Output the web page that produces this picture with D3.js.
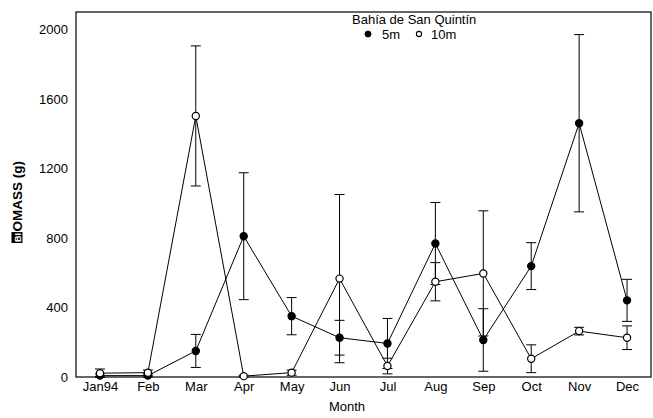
<!DOCTYPE html>
<html>
<head>
<meta charset="utf-8">
<script src="https://cdn.jsdelivr.net/npm/d3@7"></script>
<style>
  body { margin: 0; background: #fff; }
  svg { display: block; font-family: "Liberation Sans", Arial, sans-serif; }
</style>
</head>
<body>
<svg id="chart" width="653" height="418"></svg>
<script>
// Monthly biomass at two depths, Bahía de San Quintín (mean ± error)
const months = ["Jan94", "Feb", "Mar", "Apr", "May", "Jun", "Jul", "Aug", "Sep", "Oct", "Nov", "Dec"];
const depth5m = [8, 8, 150, 810, 350, 226, 193, 768, 213, 638, 1460, 441];
const depth5mErr = [10, 10, 95, 365, 107, 100, 144, 236, 180, 135, 510, 121];
const depth10m = [22, 25, 1502, 5, 25, 566, 63, 548, 596, 105, 264, 226];
const depth10mErr = [24, 15, 403, 5, 15, 484, 45, 110, 360, 80, 22, 68];
const yTicks = [0, 400, 800, 1200, 1600, 2000];

const svg = d3.select("#chart");
const W = 653, H = 418;
const margin = { top: 12, right: 2, bottom: 41, left: 76 };
const plotW = W - margin.left - margin.right;
const plotH = H - margin.top - margin.bottom;

const x = d3.scalePoint().domain(months).range([0, plotW]).padding(0.5);
const y = d3.scaleLinear().domain([0, 2100]).range([plotH, 0]);

const g = svg.append("g").attr("transform", `translate(${margin.left},${margin.top})`);

// frame
g.append("rect")
  .attr("x", 0).attr("y", 0).attr("width", plotW).attr("height", plotH)
  .attr("fill", "none").attr("stroke", "#000").attr("stroke-width", 1.2);

// axes
const yAxis = g.append("g")
  .call(d3.axisLeft(y).tickValues(yTicks).tickFormat(d3.format("d")).tickSize(0).tickPadding(8));
yAxis.select(".domain").remove();
yAxis.selectAll("text").attr("font-size", 13).attr("fill", "#000");

const xAxis = g.append("g").attr("transform", `translate(0,${plotH})`)
  .call(d3.axisBottom(x).tickSize(0).tickPadding(5));
xAxis.select(".domain").remove();
xAxis.selectAll("text").attr("font-size", 13).attr("fill", "#000");

// axis titles
svg.append("text")
  .attr("x", 347).attr("y", 411)
  .attr("text-anchor", "middle").attr("font-size", 13)
  .text("Month");

const yTitle = svg.append("g").attr("transform", "translate(22,243) rotate(-90)");
yTitle.append("rect").attr("x", 0).attr("y", -10.5).attr("width", 11).attr("height", 11).attr("fill", "#000");
yTitle.append("text").attr("x", 5.5).attr("y", -1.5).attr("text-anchor", "middle")
  .attr("font-size", 9).attr("font-weight", "bold").attr("fill", "#fff").text("BI");
yTitle.append("text").attr("x", 11.5).attr("y", 0)
  .attr("font-size", 13.5).attr("font-weight", "bold").text("OMASS (g)");

const series = [
  { name: "5m", values: depth5m, err: depth5mErr, fill: "#000" },
  { name: "10m", values: depth10m, err: depth10mErr, fill: "#fff" }
];

const capW = 5;
series.forEach(s => {
  const pts = months.map((m, i) => ({ m, v: s.values[i], e: s.err[i] }));
  const eg = g.append("g");
  pts.forEach(p => {
    const lo = Math.max(0, p.v - p.e), hi = p.v + p.e;
    eg.append("line").attr("x1", x(p.m)).attr("x2", x(p.m)).attr("y1", y(lo)).attr("y2", y(hi))
      .attr("stroke", "#000").attr("stroke-width", 1);
    [lo, hi].forEach(val => {
      eg.append("line").attr("x1", x(p.m) - capW).attr("x2", x(p.m) + capW)
        .attr("y1", y(val)).attr("y2", y(val)).attr("stroke", "#000").attr("stroke-width", 1);
    });
  });
  g.append("path").datum(pts)
    .attr("fill", "none").attr("stroke", "#000").attr("stroke-width", 1)
    .attr("d", d3.line().x(p => x(p.m)).y(p => y(p.v)));
});

series.forEach(s => {
  g.append("g").selectAll("circle").data(months.map((m, i) => ({ m, v: s.values[i] })))
    .join("circle")
    .attr("cx", p => x(p.m)).attr("cy", p => y(p.v)).attr("r", 3.6)
    .attr("fill", s.fill).attr("stroke", "#000").attr("stroke-width", 1.2);
});

// legend
const lg = svg.append("g");
lg.append("text").attr("x", 352).attr("y", 24).attr("font-size", 13).text("Bahía de San Quintín");
lg.append("circle").attr("cx", 368).attr("cy", 34).attr("r", 3).attr("fill", "#000").attr("stroke", "#000");
lg.append("text").attr("x", 382).attr("y", 38.5).attr("font-size", 13).text("5m");
lg.append("circle").attr("cx", 419).attr("cy", 34).attr("r", 2.6).attr("fill", "#fff").attr("stroke", "#000").attr("stroke-width", 1.1);
lg.append("text").attr("x", 431).attr("y", 38.5).attr("font-size", 13).text("10m");
</script>
</body>
</html>
